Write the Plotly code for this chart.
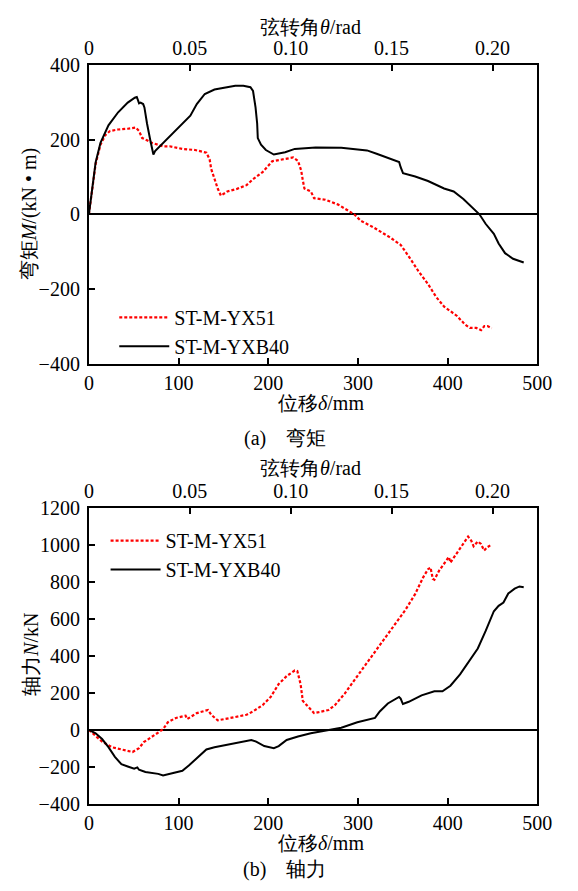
import plotly.graph_objects as go

# ---------------- data ----------------
# (a) bending moment M (kN·m) vs displacement delta (mm)
m_yx51_x = [0, 3.9, 7.5, 12.9, 18.3, 23.6, 32.6, 43.3, 52.3, 55.9, 59.4, 64.8, 70.2, 82.7, 89.9,
            104.2, 118.5, 131.0, 134.6, 136.4, 140.0, 143.6, 147.2, 154.3, 165.1, 175.8, 183.0,
            193.7, 204.4, 215.2, 227.7, 233.1, 236.7, 238.5, 240.3, 243.8, 247.5, 251.1, 254.6,
            263.6, 277.9, 295.8, 303.0, 317.3, 335.2, 347.7, 356.7, 367.4, 378.2, 387.1, 396.1,
            403.3, 410.4, 419.4, 424.7, 431.9, 437.3, 440.9, 444.4, 449.1]
m_yx51_y = [0, 69, 135, 186, 212, 223, 227, 229, 232, 223, 204, 198, 191, 182, 182,
            175, 172, 165, 147, 121, 95, 69, 50, 61, 68, 78, 94,
            113, 142, 146, 152, 143, 117, 91, 69, 65, 61, 43, 42,
            39, 26, 0, -17, -35, -61, -82, -113, -152, -187, -221, -247,
            -260, -272, -295, -304, -304, -310, -299, -299, -305]

m_yxb40_x = [0, 3.9, 7.5, 12.9, 21.8, 32.6, 43.3, 51.2, 53.4, 54.8, 55.9, 57.6, 60.5, 61.9, 63.0,
             64.8, 68.4, 71.9, 73.8, 82.7, 93.4, 104.2, 113.1, 120.3, 129.2, 140.0, 154.3, 163.2,
             172.2, 180.1, 183.0, 185.8, 187.6, 188.3, 191.9, 197.3, 206.2, 218.8, 229.5, 243.8,
             252.8, 281.4, 310.1, 320.8, 335.1, 345.9, 347.6, 350.2, 363.8, 378.1, 396.0, 406.7,
             417.5, 428.2, 435.4, 442.5, 451.5, 456.8, 464.0, 472.9, 480.1, 484.8]
m_yxb40_y = [0, 69, 139, 191, 238, 273, 299, 312, 314, 305, 297, 299, 295, 286, 264,
             243, 199, 160, 169, 191, 217, 243, 264, 295, 322, 334, 340, 344,
             344, 340, 330, 286, 243, 204, 186, 172, 160, 166, 175, 177,
             179, 178, 171, 162, 150, 140, 126, 110, 101, 89, 69, 61,
             41, 17, 0, -26, -52, -78, -104, -119, -126, -129]

# (b) axial force N (kN) vs displacement delta (mm)
n_yx51_x = [0, 7.5, 14.7, 25.5, 36.2, 48.7, 55.9, 61.2, 72.0, 82.7, 88.1, 97.0, 107.8, 109.6,
            120.3, 132.8, 136.4, 143.6, 157.9, 175.8, 182.9, 193.7, 202.6, 211.6, 220.5, 229.5,
            232.4, 236.0, 238.5, 243.8, 251.0, 256.3, 267.1, 274.3, 285.0, 299.3, 313.6, 327.9,
            342.2, 353.0, 363.7, 372.7, 378.1, 380.9, 383.4, 385.2, 390.5, 397.7, 401.3, 403.1,
            410.2, 417.4, 422.8, 426.4, 428.9, 433.6, 437.1, 440.7, 444.3, 448.9]
n_yx51_y = [0, -31, -63, -93, -105, -119, -98, -66, -31, 4, 42, 65, 77, 59,
            91, 108, 82, 52, 65, 82, 100, 134, 178, 248, 291, 321,
            318, 248, 157, 129, 91, 96, 108, 134, 195, 291, 387, 483,
            575, 649, 733, 824, 868, 877, 816, 811, 860, 913, 934, 904,
            957, 1004, 1044, 1021, 992, 1018, 1004, 969, 987, 1001]

n_yxb40_x = [0, 7.5, 14.7, 21.8, 29.0, 36.2, 43.3, 50.5, 54.0, 55.9, 63.0, 72.0, 77.3, 82.7, 89.9,
             100.6, 104.2, 111.4, 122.1, 131.0, 140.0, 154.3, 168.6, 181.1, 186.5, 195.5, 206.2,
             211.6, 220.5, 233.1, 247.4, 263.5, 281.4, 299.3, 313.6, 319.0, 324.3, 333.3, 345.8,
             347.6, 350.1, 356.6, 370.9, 385.2, 394.2, 403.1, 413.8, 424.6, 433.6, 442.5, 451.5,
             456.8, 462.2, 467.6, 474.7, 480.1, 484.8]
n_yxb40_y = [0, -18, -49, -93, -145, -185, -197, -209, -202, -215, -227, -232, -237, -246, -237,
             -227, -220, -192, -145, -105, -93, -80, -66, -54, -63, -87, -98,
             -87, -54, -35, -18, -5, 12, 42, 56, 65, 100, 143, 178,
             169, 140, 152, 187, 209, 209, 239, 300, 379, 440, 536, 641,
             670, 688, 737, 763, 775, 771]

series_names = ["ST-M-YX51", "ST-M-YXB40"]

# axes / tick labels
delta_ticks = [0, 100, 200, 300, 400, 500]
theta_ticks = [0, 0.05, 0.10, 0.15, 0.20]
theta_labels = ["0", "0.05", "0.10", "0.15", "0.20"]
m_ticks = [-400, -200, 0, 200, 400]
n_ticks = [-400, -200, 0, 200, 400, 600, 800, 1000, 1200]
span_mm = 2250.0  # delta / theta
delta_max = 500

# ---------------- figure ----------------
# the page body keeps its default 8px margin, so the figure is 16px smaller than the window
BODY = 8
W, H = 578 - 2 * BODY, 891 - 2 * BODY
FONT = "Liberation Serif, Times New Roman, serif"
FS = 20

def px_x(p):  # p: pixel in the 578x891 window
    return (p - BODY) / W

def px_y(p):
    return 1 - (p - BODY) / H

xdom = [px_x(86.7), px_x(551.7)]
ydom_top = [px_y(361.7), px_y(55)]
ydom_bot = [px_y(813.3), px_y(509.3)]

red = dict(color="#ff0000", width=2.2, dash="3px,2px")
blk = dict(color="black", width=2)

fig = go.Figure()
fig.add_trace(go.Scatter(x=m_yx51_x, y=m_yx51_y, mode="lines", name=series_names[0], line=red,
                         xaxis="x", yaxis="y", legend="legend"))
fig.add_trace(go.Scatter(x=m_yxb40_x, y=m_yxb40_y, mode="lines", name=series_names[1], line=blk,
                         xaxis="x", yaxis="y", legend="legend"))
fig.add_trace(go.Scatter(x=n_yx51_x, y=n_yx51_y, mode="lines", name=series_names[0], line=red,
                         xaxis="x3", yaxis="y3", legend="legend2"))
fig.add_trace(go.Scatter(x=n_yxb40_x, y=n_yxb40_y, mode="lines", name=series_names[1], line=blk,
                         xaxis="x3", yaxis="y3", legend="legend2"))
# invisible helpers so the top theta axes are drawn
for xa, ya in (("x2", "y"), ("x4", "y3")):
    fig.add_trace(go.Scatter(x=[theta_ticks[0]], y=[0], mode="markers", marker=dict(opacity=0),
                             xaxis=xa, yaxis=ya, showlegend=False, hoverinfo="skip"))

tickfont = dict(family=FONT, size=FS, color="black")
common_x = dict(showline=True, linecolor="black", linewidth=2, ticks="inside", ticklen=6,
                tickwidth=1.5, tickcolor="black", showgrid=False, zeroline=False,
                tickfont=tickfont, domain=xdom)
common_y = dict(showline=True, linecolor="black", linewidth=2, ticks="inside", ticklen=6,
                tickwidth=1.5, tickcolor="black", showgrid=False, mirror=True,
                zeroline=True, zerolinecolor="black", zerolinewidth=2, tickfont=tickfont,
                ticklabelstandoff=3)

theta_range = [0, delta_max / span_mm]

fig.update_layout(
    width=W, height=H, margin=dict(l=0, r=0, t=0, b=0),
    paper_bgcolor="white", plot_bgcolor="white",
    font=dict(family=FONT, size=FS, color="black"),
    xaxis=dict(common_x, range=[0, delta_max], tickvals=delta_ticks, anchor="y", side="bottom"),
    xaxis2=dict(common_x, range=theta_range, tickvals=theta_ticks, ticktext=theta_labels,
                anchor="y", side="top", overlaying="x"),
    yaxis=dict(common_y, range=[m_ticks[0], m_ticks[-1]], tickvals=m_ticks, domain=ydom_top,
               anchor="x"),
    xaxis3=dict(common_x, range=[0, delta_max], tickvals=delta_ticks, anchor="y3", side="bottom"),
    xaxis4=dict(common_x, range=theta_range, tickvals=theta_ticks, ticktext=theta_labels,
                anchor="y3", side="top", overlaying="x3"),
    yaxis3=dict(common_y, range=[n_ticks[0], n_ticks[-1]], tickvals=n_ticks, domain=ydom_bot,
                anchor="x3"),
    legend=dict(x=px_x(113), y=px_y(294), xanchor="left", yanchor="top", itemwidth=50,
                bgcolor="rgba(0,0,0,0)", font=dict(family=FONT, size=FS), tracegroupgap=0),
    legend2=dict(x=px_x(104), y=px_y(523), xanchor="left", yanchor="top", itemwidth=50,
                 bgcolor="rgba(0,0,0,0)", font=dict(family=FONT, size=FS), tracegroupgap=0),
    showlegend=True,
)

def ann(text, x, y, angle=0):
    fig.add_annotation(text=text, x=px_x(x), y=px_y(y), xref="paper", yref="paper",
                       showarrow=False, xanchor="center", yanchor="middle", textangle=angle,
                       font=dict(family=FONT, size=FS, color="black"))

ann("弦转角<i>θ</i>/rad", 316, 16)
ann("位移<i>δ</i>/mm", 327, 402)
ann("弯矩<i>M</i>/(kN • m)", 26, 208, -90)
ann("(a)\u3000弯矩", 290, 438)
ann("弦转角<i>θ</i>/rad", 316, 469)
ann("位移<i>δ</i>/mm", 327, 853)
ann("轴力<i>N</i>/kN", 26, 660, -90)
ann("(b)\u3000轴力", 290, 880)

fig.write_html("out.html", config={"displayModeBar": False})
